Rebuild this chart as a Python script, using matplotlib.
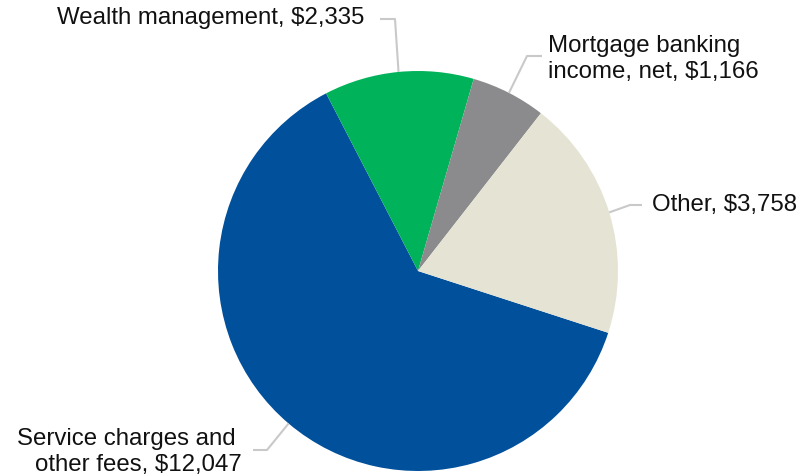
import numpy as np
import matplotlib
matplotlib.use('Agg')
import matplotlib.pyplot as plt

# Non-interest income components ($ thousands)
categories = ['Service charges and \nother fees', 'Wealth management',
              'Mortgage banking\nincome, net', 'Other']
values = [12047, 2335, 1166, 3758]
colors = ['#00509B', '#00B259', '#8B8B8D', '#E5E4D4']

W, H = 811, 476
plt.rcParams['font.family'] = ['Liberation Sans', 'DejaVu Sans']

fig = plt.figure(figsize=(W / 100, H / 100), dpi=100)
ax = fig.add_axes([0, 0, 1, 1])

cx, cy, r = 418, H - 271, 200
wedges, _ = ax.pie(values, colors=colors, startangle=-18, counterclock=False,
                   center=(cx, cy), radius=r, frame=True,
                   wedgeprops=dict(linewidth=0))

ax.set_xlim(0, W)
ax.set_ylim(0, H)
ax.set_aspect('equal')
ax.axis('off')

# label layout: (elbow point, end of leader, text anchor, ha)
layout = [
    ((267, H - 450), (253, H - 450), (242, H - 452), 'right'),
    ((395, H - 19), (380, H - 19), (364, H - 18), 'right'),
    ((527, H - 56), (542, H - 56), (548, H - 59), 'left'),
    ((630, H - 205), (642, H - 205), (652, H - 205), 'left'),
]

line_color = '#C9C9C9'
for w, cat, val, (elbow, end, txt, ha) in zip(wedges, categories, values, layout):
    mid = np.deg2rad((w.theta1 + w.theta2) / 2)
    x0, y0 = cx + r * np.cos(mid), cy + r * np.sin(mid)
    ax.plot([x0, elbow[0], end[0]], [y0, elbow[1], end[1]],
            color=line_color, linewidth=1.5, solid_capstyle='butt')
    ax.text(txt[0], txt[1], f'{cat}, ${val:,}', ha=ha, va='center',
            multialignment=ha, fontsize=17.3, color='#111111')

fig.savefig('out.png', dpi=100)
